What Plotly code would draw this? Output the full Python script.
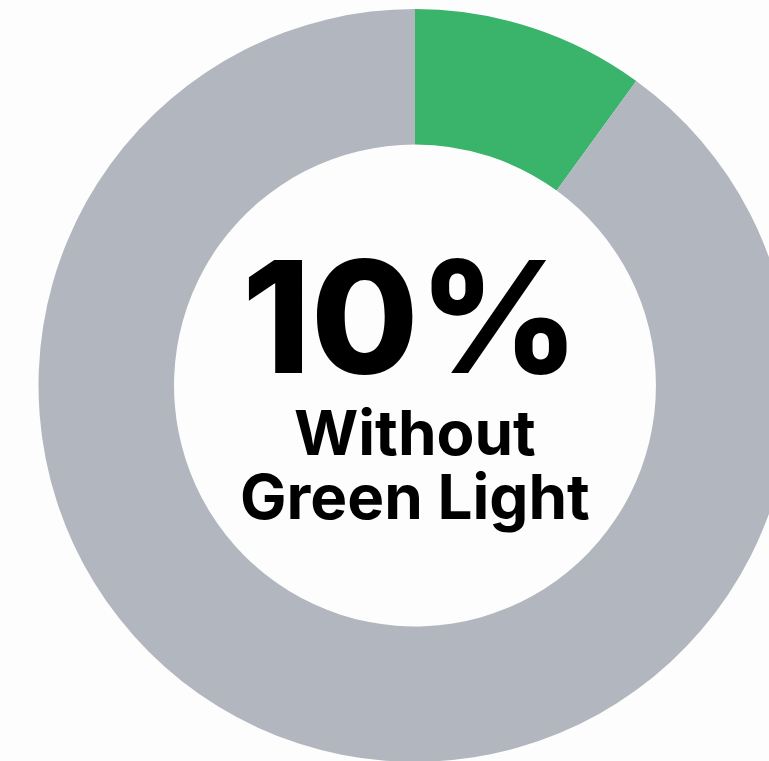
import plotly.graph_objects as go

labels = ["Without Green Light", "With Green Light"]
values = [10, 90]
colors = ["#39b46a", "#b2b7bf"]
center_big = "10%"
center_lines = ["Without", "Green Light"]

W, H = 830, 762
T = 9
plot_h = H - T

def py(p):
    return 1 - (p - T) / plot_h

fig = go.Figure(go.Pie(
    labels=labels, values=values, hole=0.64, sort=False,
    direction="clockwise", rotation=0,
    marker=dict(colors=colors, line=dict(width=0)),
    textinfo="none", hoverinfo="skip", showlegend=False,
))

font_fam = "Inter"
fig.add_annotation(text=center_big, x=0.4945, y=py(316), xref="paper", yref="paper",
                   showarrow=False, xanchor="center", yanchor="middle",
                   font=dict(family=font_fam, size=156, color="#000", weight=800))
sub = "<br>".join(f"<span style='font-size:62px'>{s}</span>" for s in center_lines)
fig.add_annotation(text=sub, x=0.4995, y=py(464), xref="paper", yref="paper",
                   showarrow=False, xanchor="center", yanchor="middle", align="center",
                   font=dict(family=font_fam, size=49, color="#000", weight=700))

fig.update_layout(width=W, height=H, margin=dict(l=0, r=0, t=T, b=0),
                  paper_bgcolor="#fdfdfd", plot_bgcolor="#fdfdfd")

fig.write_html("out.html", config={"displayModeBar": False},
               post_script="document.body.style.margin='0';document.body.style.overflow='hidden';")
